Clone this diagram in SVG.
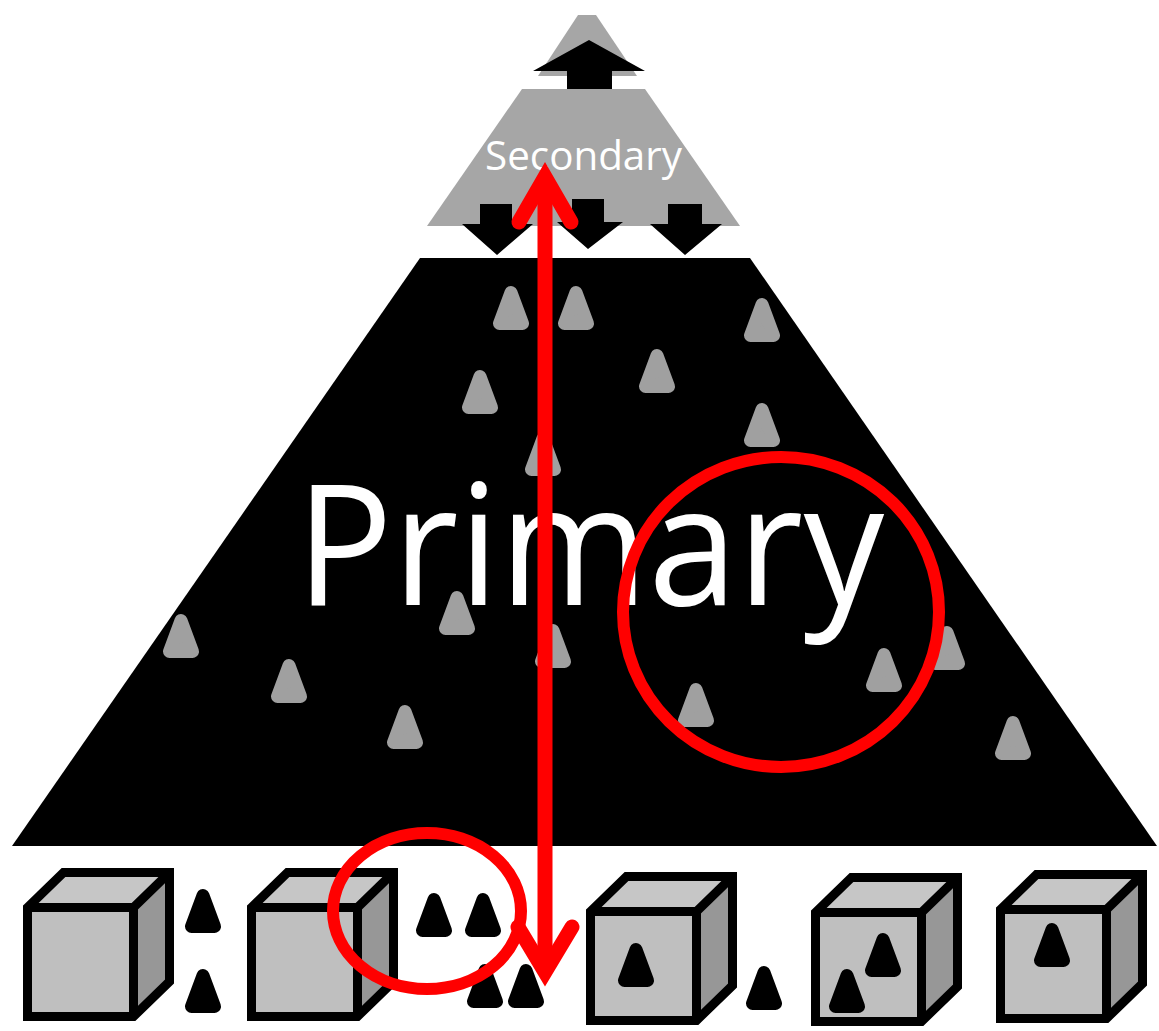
<svg xmlns="http://www.w3.org/2000/svg" xmlns:xlink="http://www.w3.org/1999/xlink" width="1159" height="1031" viewBox="0 0 1159 1031">
<style>
.gcone{fill:#a0a0a0;stroke:#a0a0a0}
.bcone{fill:#000;stroke:#000}
.red{fill:none;stroke:#ff0000;stroke-width:12}
.redarrow{fill:none;stroke:#ff0000;stroke-width:15;stroke-linecap:round;stroke-linejoin:miter}
.lbl{font-family:"Open Sans","Liberation Sans",Arial,sans-serif;fill:#ffffff}
</style>
<defs>
<path id="cone" d="M0,-37.5 L11.5,-6.5 L-11.5,-6.5 Z" stroke-width="13" stroke-linejoin="round"/>
<g id="cube">
<rect x="4.5" y="4.5" width="106" height="109" fill="#bfbfbf"/>
<path d="M4.5,4.5 L40.5,-30.5 L146.5,-30.5 L110.5,4.5 Z" fill="#c6c6c6"/>
<path d="M110.5,4.5 L146.5,-30.5 L146.5,78.5 L110.5,113.5 Z" fill="#979797"/>
<path d="M4.5,4.5 L40.5,-30.5 L146.5,-30.5 L146.5,78.5 L110.5,113.5 L4.5,113.5 Z M4.5,4.5 L110.5,4.5 L110.5,113.5 M110.5,4.5 L146.5,-30.5" fill="none" stroke="#000" stroke-width="9" stroke-linejoin="miter"/>
</g>
</defs>
<rect width="1159" height="1031" fill="#ffffff"/>

<g id="secondary">
<polygon points="578,15 596,15 637,76 538,76" fill="#a6a6a6"/>
<polygon points="589,40 645,71 612,71 612,89 567,89 567,71 533,71" fill="#000"/>
<polygon points="522,89 645,89 740,226 427,226" fill="#a6a6a6"/>
<text class="lbl" x="485" y="170" font-size="41" textLength="197" lengthAdjust="spacingAndGlyphs" fill="#f2f2f2">Secondary</text>
<polygon points="480,204 512,204 512,224 533,224 497,255 462,224 480,224" fill="#000"/>
<polygon points="572,199 604,199 604,222 623,222 588,249 557,222 572,222" fill="#000"/>
<polygon points="668,204 702,204 702,224 722,224 685,255 650,224 668,224" fill="#000"/>
</g>

<g id="primary">
<polygon points="420,258 750,258 1157,846 12,846" fill="#000"/>
<use href="#cone" class="gcone" transform="translate(511,330)"/>
<use href="#cone" class="gcone" transform="translate(576,330)"/>
<use href="#cone" class="gcone" transform="translate(762,342)"/>
<use href="#cone" class="gcone" transform="translate(657,393)"/>
<use href="#cone" class="gcone" transform="translate(480,414)"/>
<use href="#cone" class="gcone" transform="translate(762,447)"/>
<use href="#cone" class="gcone" transform="translate(543,476)"/>
<use href="#cone" class="gcone" transform="translate(181,658)"/>
<use href="#cone" class="gcone" transform="translate(289,703)"/>
<use href="#cone" class="gcone" transform="translate(405,749)"/>
<use href="#cone" class="gcone" transform="translate(553,668)"/>
<use href="#cone" class="gcone" transform="translate(696,727)"/>
<use href="#cone" class="gcone" transform="translate(884,692)"/>
<use href="#cone" class="gcone" transform="translate(947,670)"/>
<use href="#cone" class="gcone" transform="translate(1013,760)"/>
<text class="lbl" x="296" y="605" font-size="168" textLength="588" lengthAdjust="spacingAndGlyphs">Primary</text>
<use href="#cone" class="gcone" transform="translate(457,635)"/>
</g>

<g id="cube-1">
<use href="#cube" x="23" y="903"/>
</g>
<g id="cones-1">
<use href="#cone" class="bcone" transform="translate(203,933)"/>
<use href="#cone" class="bcone" transform="translate(203,1013)"/>
</g>
<g id="cube-2">
<use href="#cube" x="247" y="903"/>
</g>
<g id="cones-2">
<use href="#cone" class="bcone" transform="translate(434,937)"/>
<use href="#cone" class="bcone" transform="translate(483,937)"/>
<use href="#cone" class="bcone" transform="translate(485,1008)"/>
<use href="#cone" class="bcone" transform="translate(526,1008)"/>
</g>
<g id="cube-3">
<use href="#cube" x="586" y="907"/>
<use href="#cone" class="bcone" transform="translate(636,987)"/>
</g>
<g id="cones-3">
<use href="#cone" class="bcone" transform="translate(764,1010)"/>
</g>
<g id="cube-4">
<use href="#cube" x="811" y="908"/>
<use href="#cone" class="bcone" transform="translate(883,977)"/>
<use href="#cone" class="bcone" transform="translate(847,1013)"/>
</g>
<g id="cube-5">
<use href="#cube" x="996" y="905"/>
<use href="#cone" class="bcone" transform="translate(1052,967)"/>
</g>

<g id="annotations">
<ellipse class="red" cx="781" cy="612" rx="158" ry="155"/>
<ellipse class="red" cx="427" cy="911" rx="94" ry="78" stroke-width="10"/>
</g>

<g id="connectors">
<line x1="545" y1="178" x2="545" y2="972" stroke="#ff0000" stroke-width="15"/>
<polyline class="redarrow" points="519,222 545,177 571,222"/>
<polyline class="redarrow" points="518,927 545,972 572,927"/>
</g>
</svg>
